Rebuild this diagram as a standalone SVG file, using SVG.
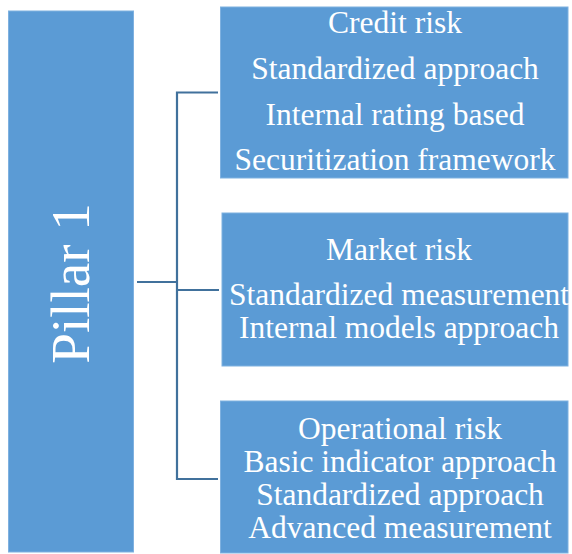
<svg xmlns="http://www.w3.org/2000/svg" width="572" height="554" viewBox="0 0 572 554">
  <style>
    .box { fill: #5B9BD5; stroke: #7FB1E0; stroke-width: 1; }
    .lbl { font-family: "Liberation Serif", "Times New Roman", serif; font-size: 31.5px; fill: #FFFFFF; text-anchor: middle; }
    .big { font-family: "Liberation Serif", "Times New Roman", serif; font-size: 55px; fill: #FFFFFF; text-anchor: middle; }
    .conn { fill: none; stroke: #41719C; stroke-width: 2.2; }
  </style>
  <rect width="572" height="554" fill="#FFFFFF"/>

  <g id="connectors">
    <path class="conn" d="M137 282 H177"/>
    <path class="conn" d="M218 92.5 H177 V479 H218"/>
    <path class="conn" d="M177 290 H219"/>
  </g>

  <g id="pillar1">
    <rect class="box" x="8.5" y="11" width="125" height="541"/>
    <text class="big" transform="translate(89 283.5) rotate(-90)" x="0" y="0">Pillar 1</text>
  </g>

  <g id="credit-risk">
    <rect class="box" x="220.5" y="7" width="347.5" height="171"/>
    <text class="lbl" x="395" y="33">Credit risk</text>
    <text class="lbl" x="395" y="79">Standardized approach</text>
    <text class="lbl" x="395" y="125">Internal rating based</text>
    <text class="lbl" x="395" y="170">Securitization framework</text>
  </g>

  <g id="market-risk">
    <rect class="box" x="222" y="213" width="346" height="153"/>
    <text class="lbl" x="399" y="260">Market risk</text>
    <text class="lbl" x="399" y="305">Standardized measurement</text>
    <text class="lbl" x="399" y="338">Internal models approach</text>
  </g>

  <g id="operational-risk">
    <rect class="box" x="220.5" y="401" width="347.5" height="152"/>
    <text class="lbl" x="400" y="439">Operational risk</text>
    <text class="lbl" x="400" y="472">Basic indicator approach</text>
    <text class="lbl" x="400" y="505">Standardized approach</text>
    <text class="lbl" x="400" y="537.5">Advanced measurement</text>
  </g>
</svg>
